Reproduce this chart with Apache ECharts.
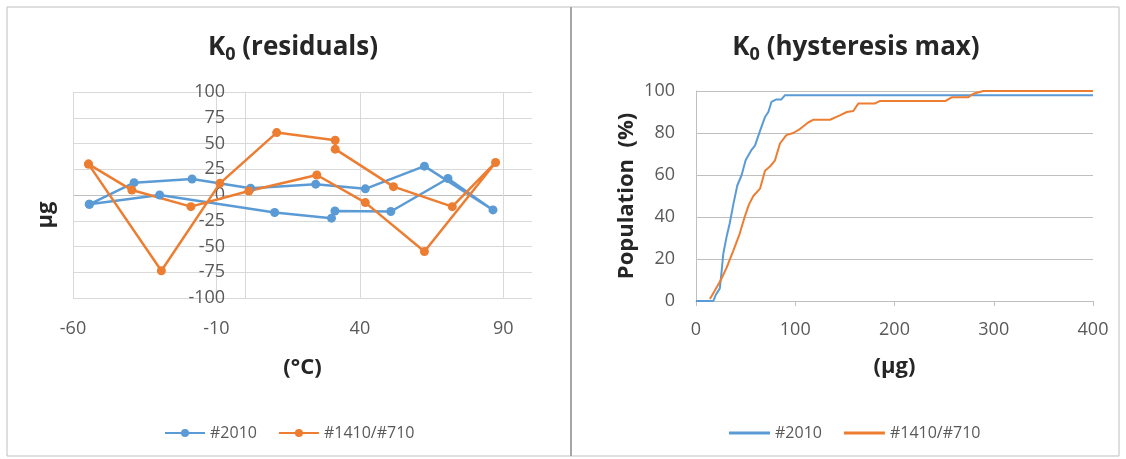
<!DOCTYPE html>
<html><head><meta charset="utf-8">
<script src="https://cdn.jsdelivr.net/npm/echarts@6/dist/echarts.min.js"></script>
<style>html,body{margin:0;padding:0;background:#fff}#c{width:1126px;height:459px}</style>
</head><body><div id="c"></div>
<script>
// Left chart: K0 residuals vs temperature (°C), µg
const resid2010X = [-54.3, -38.7, -18.5, 1.9, 24.6, 41.9, 62.5, 86.4, 70.7, 50.8, 31.3, 30.1, 10.3, -29.8, -54.3];
const resid2010Y = [-9, 12, 15.5, 6.5, 10.5, 6, 28, -14.5, 16, -16, -15.5, -22.5, -17, 0, -9];
const resid1410X = [-54.6, -39.5, -18.9, 1.3, 25, 41.9, 62.5, 87.3, 72.2, 51.7, 31.4, 31.4, 11, -8.8, -29.2, -54.6];
const resid1410Y = [30, 4.8, -11.3, 3.9, 19.4, -7.4, -54.8, 31.6, -11.3, 8.1, 44.5, 53.2, 60.6, 11.3, -73.5, 30];
// Right chart: K0 hysteresis max cumulative population (%)
const hyst2010X = [0, 17.5, 20, 24, 26, 27.5, 31, 34, 37.6, 41.6, 46, 50, 56, 59.4, 64.5, 69.5, 72.9, 76, 81, 86, 89.7, 400];
const hyst2010Y = [0, 0, 3, 6, 15, 22.5, 31, 37, 46, 55, 60, 67, 72, 74, 81, 87.6, 90, 94.8, 96, 96, 98, 98];
const hyst1410X = [14, 19, 25, 31, 37.6, 44, 49, 53.4, 57.8, 64.5, 69.5, 74.5, 79.6, 84.6, 91, 98, 105, 113, 118, 135, 145, 152, 158.5, 163.5, 180, 185, 251, 257.6, 274, 279.4, 289.5, 400];
const hyst1410Y = [1, 5, 10, 16, 24, 32, 40, 46, 50, 53.5, 62, 64, 67, 75, 79, 80, 82, 85, 86.3, 86.3, 88.4, 90, 90.5, 94, 94, 95.2, 95.2, 97, 97, 98.7, 100, 100];
const seriesNames = ['#2010', '#1410/#710'];

const zip = (a, b) => a.map((v, i) => [v, b[i]]);
const FONT = 'Open Sans';
const TXT = '#595959';
const DARK = '#262626';
const GRID = '#d9d9d9';
const BLUE = '#5B9BD5';
const ORANGE = '#ED7D31';

// left temperature axis range and plot width; the value axis crosses at 0 °C
const T_MIN = -60, T_MAX = 100, LEFT_W = 459;
const yCrossOffset = -((0 - T_MIN) / (T_MAX - T_MIN)) * LEFT_W;

const titleRich = {
  k: {fontSize: 26, fontWeight: 'bold', color: DARK, lineHeight: 32, fontFamily: FONT},
  s: {fontSize: 18, fontWeight: 'bold', color: DARK, lineHeight: 23, verticalAlign: 'bottom', fontFamily: FONT}
};
const nameStyle = {fontSize: 22, fontWeight: 'bold', color: DARK, fontFamily: FONT};

const chart = echarts.init(document.getElementById('c'));
chart.setOption({
  animation: false,
  backgroundColor: '#fff',
  textStyle: {fontFamily: FONT},
  title: [
    {text: '{k|K}{s|0}{k| (residuals)}', left: 288, top: 27, textAlign: 'center', textStyle: {rich: titleRich}},
    {text: '{k|K}{s|0}{k| (hysteresis max)}', left: 851, top: 27, textAlign: 'center', textStyle: {rich: titleRich}}
  ],
  legend: [
    {data: seriesNames, left: 159, top: 420, itemWidth: 40, itemHeight: 10, itemGap: 21,
     textStyle: {fontSize: 16, color: TXT, fontFamily: FONT}},
    {data: seriesNames.map(n => ({name: n, icon: 'rect'})), left: 724, top: 420, itemWidth: 41, itemHeight: 3, itemGap: 22,
     textStyle: {fontSize: 16, color: TXT, fontFamily: FONT}}
  ],
  grid: [
    {left: 73, top: 92, width: LEFT_W, height: 206, outerBoundsMode: 'none', containLabel: false},
    {left: 696, top: 91, width: 397, height: 210, outerBoundsMode: 'none', containLabel: false}
  ],
  xAxis: [
    {gridIndex: 0, type: 'value', min: T_MIN, max: T_MAX, interval: 50,
     axisLine: {show: false, onZero: false}, axisTick: {show: false},
     axisLabel: {fontSize: 18, color: TXT, margin: 22, showMaxLabel: false},
     splitLine: {show: true, showMaxLine: false, lineStyle: {color: GRID}},
     name: '(°C)', nameLocation: 'middle', nameGap: 59, nameTextStyle: nameStyle},
    {gridIndex: 1, type: 'value', min: 0, max: 400, interval: 100,
     axisLine: {show: true, onZero: false, lineStyle: {color: '#bfbfbf'}},
     axisTick: {show: true, length: 5, lineStyle: {color: '#bfbfbf'}},
     axisLabel: {fontSize: 18, color: TXT, margin: 20},
     splitLine: {show: false},
     name: '(µg)', nameLocation: 'middle', nameGap: 55, nameTextStyle: nameStyle}
  ],
  yAxis: [
    {gridIndex: 0, type: 'value', min: -100, max: 100, interval: 25, position: 'left', offset: yCrossOffset,
     axisLine: {show: true, onZero: false, lineStyle: {color: GRID}}, axisTick: {show: false},
     axisLabel: {fontSize: 18, color: TXT, margin: 20},
     splitLine: {lineStyle: {color: [GRID, GRID, GRID, GRID, '#bfbfbf', GRID, GRID, GRID, GRID]}},
     name: 'µg', nameLocation: 'middle', nameGap: 188, nameRotate: 90,
     nameTextStyle: Object.assign({}, nameStyle, {padding: [0, 40, 0, 0]})},
    {gridIndex: 1, type: 'value', min: 0, max: 100, interval: 20,
     axisLine: {show: true, lineStyle: {color: '#bfbfbf'}}, axisTick: {show: false},
     axisLabel: {fontSize: 18, color: TXT, margin: 21},
     splitLine: {lineStyle: {color: '#bfbfbf'}},
     name: 'Population  (%)', nameLocation: 'middle', nameGap: 58, nameRotate: 90, nameTextStyle: nameStyle}
  ],
  series: [
    {name: seriesNames[0], type: 'line', xAxisIndex: 0, yAxisIndex: 0, data: zip(resid2010X, resid2010Y),
     symbol: 'circle', symbolSize: 9, lineStyle: {width: 2.5, color: BLUE}, itemStyle: {color: BLUE}},
    {name: seriesNames[1], type: 'line', xAxisIndex: 0, yAxisIndex: 0, data: zip(resid1410X, resid1410Y),
     symbol: 'circle', symbolSize: 9, lineStyle: {width: 2.5, color: ORANGE}, itemStyle: {color: ORANGE}},
    {name: seriesNames[0], type: 'line', xAxisIndex: 1, yAxisIndex: 1, data: zip(hyst2010X, hyst2010Y),
     symbol: 'none', lineStyle: {width: 2, color: BLUE}, itemStyle: {color: BLUE}},
    {name: seriesNames[1], type: 'line', xAxisIndex: 1, yAxisIndex: 1, data: zip(hyst1410X, hyst1410Y),
     symbol: 'none', lineStyle: {width: 2, color: ORANGE}, itemStyle: {color: ORANGE}}
  ],
  graphic: [
    {type: 'rect', shape: {x: 7, y: 7, width: 1112, height: 449}, style: {fill: null, stroke: '#bfbfbf', lineWidth: 1}, silent: true},
    {type: 'line', shape: {x1: 571, y1: 7, x2: 571, y2: 456}, style: {stroke: '#a6a6a6', lineWidth: 2}, silent: true}
  ]
});
</script>
</body></html>
